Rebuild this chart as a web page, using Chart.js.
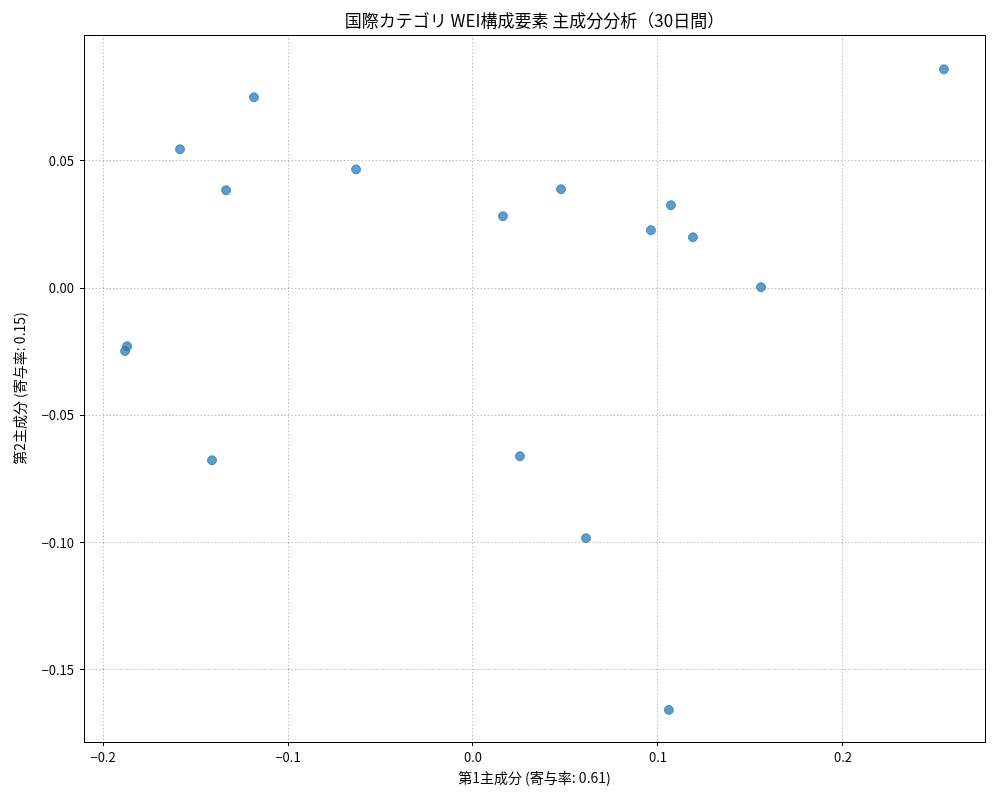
<!DOCTYPE html>
<html lang="ja">
<head>
    <meta charset="UTF-8">
    <title>国際カテゴリ WEI構成要素 主成分分析</title>
    <script src="https://cdn.jsdelivr.net/npm/chart.js"></script>
    <style>
        html, body { margin: 0; padding: 0; background: #fff; }
        #wrap { width: 1000px; height: 800px; position: relative; }
    </style>
</head>
<body>
    <div id="wrap"><canvas id="pcaChart"></canvas></div>
    <script>
        // PCA scores
        const pc1 = [0.2546, -0.1184, -0.1584, -0.1335, -0.0632, 0.0162, 0.0476, 0.1070, 0.0962,
                     0.1189, 0.1557, -0.1870, -0.1881, -0.1411, 0.0254, 0.0611, 0.1059];
        const pc2 = [0.0860, 0.0750, 0.0546, 0.0385, 0.0467, 0.0283, 0.0389, 0.0326, 0.0228,
                     0.0200, 0.0004, -0.0228, -0.0247, -0.0676, -0.0660, -0.0982, -0.1657];

        const xTicks = [-0.2, -0.1, 0.0, 0.1, 0.2];
        const yTicks = [-0.15, -0.10, -0.05, 0.00, 0.05];

        const titleText = '国際カテゴリ WEI構成要素 主成分分析（30日間）';
        const xLabel = '第1主成分 (寄与率: 0.61)';
        const yLabel = '第2主成分 (寄与率: 0.15)';

        const FONT = '"Noto Sans CJK JP", "DejaVu Sans", sans-serif';
        const GRID = 'rgba(0,0,0,0.25)';

        function fmt(v, d) {
            if (Math.abs(v) < 1e-9) v = 0;
            return v.toFixed(d).replace('-', '\u2212');
        }

        // all four spines, plus the title centred over the axes like matplotlib
        const frame = {
            id: 'frame',
            afterDraw(chart) {
                const { ctx, chartArea: a } = chart;
                ctx.save();
                ctx.strokeStyle = '#000';
                ctx.lineWidth = 1;
                ctx.setLineDash([]);
                ctx.strokeRect(a.left + 0.5, a.top + 0.5, a.right - a.left, a.bottom - a.top);
                ctx.fillStyle = '#000';
                ctx.font = '17px ' + FONT;
                ctx.textAlign = 'center';
                ctx.textBaseline = 'middle';
                ctx.fillText(titleText, (a.left + a.right) / 2, 21);
                ctx.restore();
            }
        };

        const points = pc1.map((x, i) => ({ x: x, y: pc2[i] }));

        new Chart(document.getElementById('pcaChart'), {
            type: 'scatter',
            data: {
                datasets: [{
                    data: points,
                    backgroundColor: 'rgba(31,119,180,0.72)',
                    borderColor: 'rgba(31,119,180,0.72)',
                    borderWidth: 1,
                    pointRadius: 4.5
                }]
            },
            options: {
                responsive: true,
                maintainAspectRatio: false,
                animation: false,
                layout: { padding: { left: 0, right: 15, top: 35, bottom: 0 } },
                plugins: {
                    legend: { display: false },
                    tooltip: { enabled: false },
                    title: { display: false }
                },
                scales: {
                    x: {
                        type: 'linear',
                        min: -0.2103,
                        max: 0.2768,
                        afterFit(scale) { scale.height = 58; },
                        afterBuildTicks(scale) { scale.ticks = xTicks.map(v => ({ value: v })); },
                        ticks: {
                            color: '#000',
                            font: { family: FONT, size: 13 },
                            padding: 3,
                            maxRotation: 0,
                            callback: v => fmt(v, 1)
                        },
                        grid: {
                            color: GRID,
                            tickColor: '#000',
                            tickBorderDash: [],
                            tickLength: 4
                        },
                        border: { display: true, color: '#000', width: 1, dash: [1.5, 2] },
                        title: {
                            display: true,
                            text: xLabel,
                            color: '#000',
                            font: { family: FONT, size: 14 },
                            padding: { top: 0, bottom: 14 }
                        }
                    },
                    y: {
                        type: 'linear',
                        min: -0.1783,
                        max: 0.0995,
                        afterFit(scale) { scale.width = 84; },
                        afterBuildTicks(scale) { scale.ticks = yTicks.map(v => ({ value: v })); },
                        ticks: {
                            color: '#000',
                            font: { family: FONT, size: 13 },
                            padding: 6,
                            callback: v => fmt(v, 2)
                        },
                        grid: {
                            color: GRID,
                            tickColor: '#000',
                            tickBorderDash: [],
                            tickLength: 4
                        },
                        border: { display: true, color: '#000', width: 1, dash: [1.5, 2] },
                        title: {
                            display: true,
                            text: yLabel,
                            color: '#000',
                            font: { family: FONT, size: 14 },
                            padding: { top: 11, bottom: 0 }
                        }
                    }
                }
            },
            plugins: [frame]
        });
    </script>
</body>
</html>
